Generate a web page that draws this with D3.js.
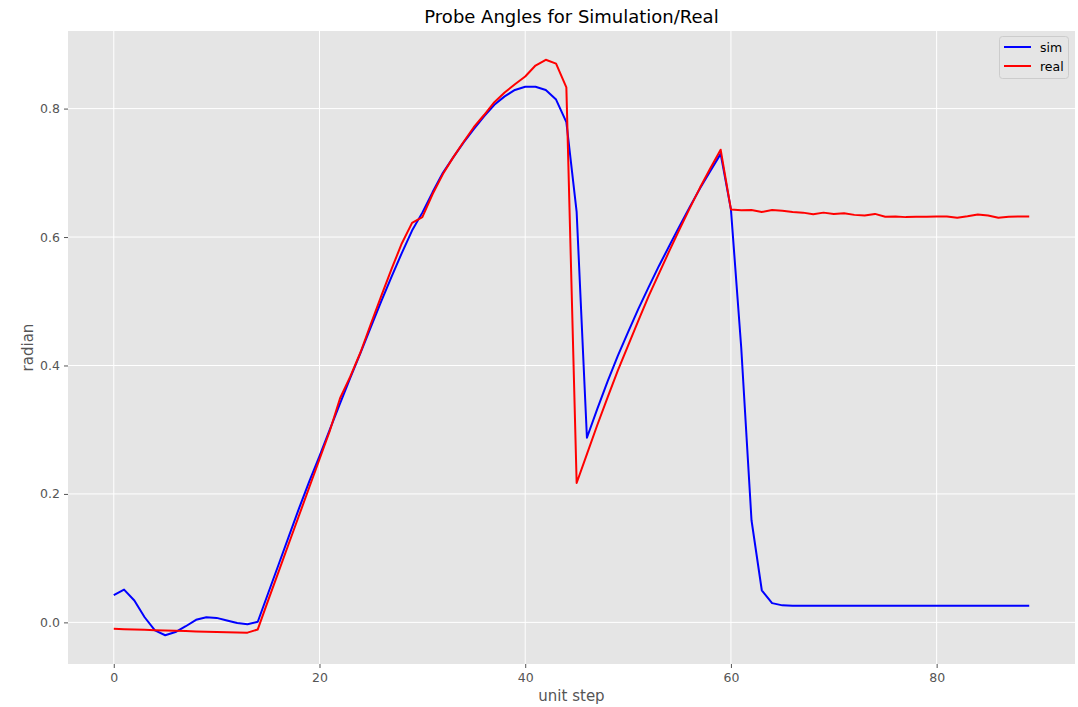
<!DOCTYPE html>
<html>
<head>
<meta charset="utf-8">
<script src="https://cdn.jsdelivr.net/npm/d3@7"></script>
<style>
  html, body { margin: 0; padding: 0; background: #ffffff; }
  svg { display: block; font-family: "DejaVu Sans", sans-serif; }
</style>
</head>
<body>
<svg id="chart" width="1078" height="707"></svg>
<script>
// ---- data ----
const steps = d3.range(0, 90);
const simValues = [
  0.0425, 0.051, 0.034, 0.008, -0.0125, -0.020, -0.015, -0.006, 0.004, 0.008,
  0.007, 0.003, -0.001, -0.003, 0.001, 0.045, 0.089, 0.133, 0.177, 0.219,
  0.259, 0.300, 0.341, 0.381, 0.420, 0.460, 0.500, 0.538, 0.575, 0.610,
  0.638, 0.670, 0.700, 0.724, 0.747, 0.768, 0.788, 0.806, 0.819, 0.829,
  0.834, 0.834, 0.829, 0.814, 0.779, 0.639, 0.2875, 0.332, 0.375, 0.415,
  0.452, 0.488, 0.522, 0.555, 0.586, 0.617, 0.647, 0.676, 0.703, 0.7295,
  0.643, 0.428, 0.159, 0.050, 0.030, 0.0265, 0.026, 0.026, 0.026, 0.026,
  0.026, 0.026, 0.026, 0.026, 0.026, 0.026, 0.026, 0.026, 0.026, 0.026,
  0.026, 0.026, 0.026, 0.026, 0.026, 0.026, 0.026, 0.026, 0.026, 0.026
];
const realValues = [
  -0.0100, -0.0105, -0.0110, -0.0116, -0.0121, -0.0126, -0.0131, -0.0136, -0.0141, -0.0145,
  -0.0150, -0.0153, -0.0157, -0.0160, -0.0110, 0.034, 0.078, 0.122, 0.166, 0.210,
  0.254, 0.298, 0.349, 0.383, 0.421, 0.465, 0.508, 0.550, 0.590, 0.622,
  0.631, 0.667, 0.698, 0.724, 0.748, 0.771, 0.790, 0.810, 0.825, 0.838,
  0.850, 0.867, 0.876, 0.870, 0.833, 0.217, 0.262, 0.307, 0.350, 0.392,
  0.431, 0.470, 0.508, 0.543, 0.578, 0.612, 0.645, 0.677, 0.707, 0.736,
  0.643, 0.6417, 0.642, 0.639, 0.642, 0.641, 0.639, 0.638, 0.6355, 0.638,
  0.636, 0.637, 0.6345, 0.6335, 0.636, 0.6315, 0.632, 0.631, 0.6315, 0.6315,
  0.632, 0.632, 0.630, 0.6322, 0.635, 0.6335, 0.630, 0.6315, 0.632, 0.632
];
const seriesNames = ["sim", "real"];
const seriesColors = ["#0000ff", "#ff0000"];
const xTicks = [0, 20, 40, 60, 80];
const yTicks = [0.0, 0.2, 0.4, 0.6, 0.8];
const titleText = "Probe Angles for Simulation/Real";
const xLabel = "unit step";
const yLabel = "radian";

// ---- layout ----
const svg = d3.select("#chart");
const mLeft = 68, mRight = 1075, mTop = 31, mBottom = 664;

const allVals = simValues.concat(realValues);
const xMin = 0, xMax = 89;
const yMin = d3.min(allVals), yMax = d3.max(allVals);
const xPad = (xMax - xMin) * 0.05, yPad = (yMax - yMin) * 0.05;

const x = d3.scaleLinear().domain([xMin - xPad, xMax + xPad]).range([mLeft, mRight]);
const y = d3.scaleLinear().domain([yMin - yPad, yMax + yPad]).range([mBottom, mTop]);

// background
svg.append("rect").attr("x", mLeft).attr("y", mTop)
  .attr("width", mRight - mLeft).attr("height", mBottom - mTop)
  .attr("fill", "#e5e5e5");

// grid
const grid = svg.append("g");
grid.selectAll("line.gx").data(xTicks).join("line")
  .attr("class", "gx")
  .attr("x1", d => x(d)).attr("x2", d => x(d))
  .attr("y1", mTop).attr("y2", mBottom)
  .attr("stroke", "#ffffff").attr("stroke-width", 1);
grid.selectAll("line.gy").data(yTicks).join("line")
  .attr("class", "gy")
  .attr("y1", d => y(d)).attr("y2", d => y(d))
  .attr("x1", mLeft).attr("x2", mRight)
  .attr("stroke", "#ffffff").attr("stroke-width", 1);

// axes
const xAxis = d3.axisBottom(x).tickValues(xTicks).tickFormat(d3.format("d"))
  .tickSizeInner(4).tickSizeOuter(0).tickPadding(5);
const yAxis = d3.axisLeft(y).tickValues(yTicks).tickFormat(d3.format(".1f"))
  .tickSizeInner(4).tickSizeOuter(0).tickPadding(4);

const gx = svg.append("g").attr("transform", `translate(0,${mBottom})`).call(xAxis);
const gy = svg.append("g").attr("transform", `translate(${mLeft},0)`).call(yAxis);
[gx, gy].forEach(g => {
  g.select(".domain").remove();
  g.selectAll(".tick line").attr("stroke", "#555555");
  g.selectAll(".tick text").attr("fill", "#555555")
    .style("font-size", "12.5px").style("font-family", "DejaVu Sans, sans-serif");
});

// lines
const series = [simValues, realValues];
const line = d3.line().x((d, i) => x(steps[i])).y(d => y(d));
series.forEach((vals, k) => {
  svg.append("path").datum(vals)
    .attr("d", line)
    .attr("fill", "none")
    .attr("stroke", seriesColors[k])
    .attr("stroke-width", 2)
    .attr("stroke-linejoin", "round");
});

// title & labels
svg.append("text").attr("x", (mLeft + mRight) / 2).attr("y", 23)
  .attr("text-anchor", "middle").style("font-size", "18px").attr("fill", "#000000")
  .text(titleText);
svg.append("text").attr("x", (mLeft + mRight) / 2).attr("y", 701)
  .attr("text-anchor", "middle").style("font-size", "15px").attr("fill", "#555555")
  .text(xLabel);
svg.append("text").attr("transform", `translate(33,${(mTop + mBottom) / 2}) rotate(-90)`)
  .attr("text-anchor", "middle").style("font-size", "15px").attr("fill", "#555555")
  .text(yLabel);

// legend
const lg = svg.append("g");
lg.append("rect").attr("x", 999.5).attr("y", 36.5).attr("width", 69).attr("height", 42)
  .attr("rx", 3).attr("fill", "#e5e5e5").attr("stroke", "#cccccc").attr("stroke-width", 1);
seriesNames.forEach((name, k) => {
  const ly = 47 + k * 19;
  lg.append("line").attr("x1", 1004).attr("x2", 1031).attr("y1", ly).attr("y2", ly)
    .attr("stroke", seriesColors[k]).attr("stroke-width", 2);
  lg.append("text").attr("x", 1040).attr("y", ly + 4.5)
    .style("font-size", "12.5px").attr("fill", "#000000").text(name);
});
</script>
</body>
</html>
